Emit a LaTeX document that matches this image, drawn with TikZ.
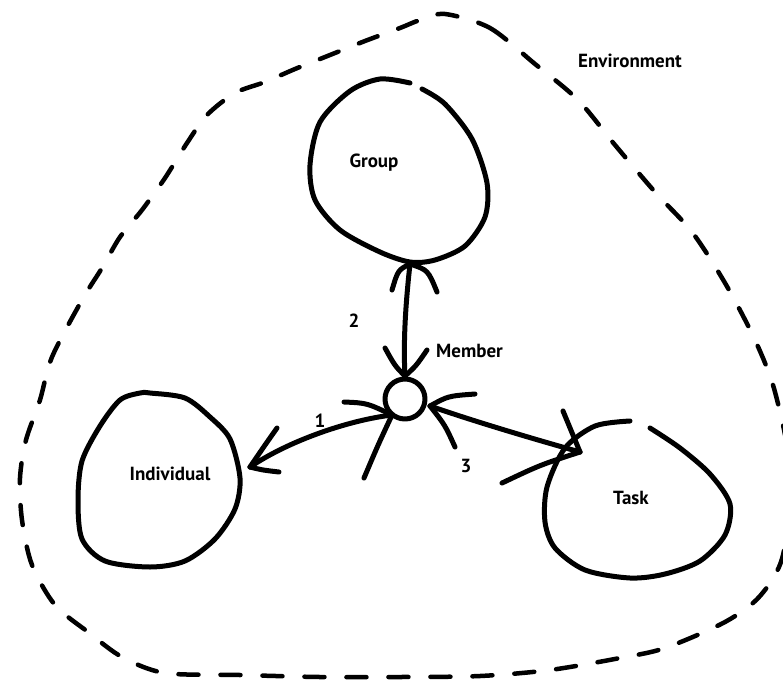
\documentclass[tikz,border=0pt]{standalone}
\usepackage{fontspec}
\setmainfont{PT Sans}
\begin{document}
\begin{tikzpicture}[x=1pt,y=-1pt, line cap=round, line join=round,
  blob/.style={line width=5pt},
  env/.style={line width=4.5pt, dash pattern=on 20pt off 22pt},
  conn/.style={line width=5pt},
  prong/.style={line width=5pt},
  lbl/.style={font=\fontsize{19}{22}\selectfont\bfseries, inner sep=0pt},
  num/.style={font=\fontsize{19}{22}\selectfont\bfseries, inner sep=0pt}]
\useasboundingbox (0,0) rectangle (783,682);

% environment
\draw[env] plot[smooth cycle] coordinates {(445,14) (490,28) (535,64) (578,100) (615,145) (655,192) (692,232) (725,283) (755,340) (775,392) (790,470) (783,555) (760,596) (725,622) (665,648) (620,658) (550,670) (480,676) (400,677) (320,677) (240,675) (165,673) (122,657) (88,632) (55,605) (32,565) (22,520) (20,478) (26,440) (40,400) (52,357) (82,300) (102,268) (120,237) (142,210) (165,178) (187,143) (207,115) (235,93) (265,82) (295,69) (330,55) (365,41) (400,28) (420,20)};
\node[lbl] (envl) at (630,61) {Environment};

% Group blob
\draw[blob] plot[smooth] coordinates {(422,89) (445,104) (472,139) (487,183) (485,217) (465,246) (435,260) (410,262) (380,252) (340,230) (315,200) (310,165) (320,122) (350,91) (380,79) (410,83)};
\node[lbl] (group) at (374,163) {Group};

% Individual blob
\draw[blob] plot[smooth cycle] coordinates {(150,393) (185,398) (210,417) (230,439) (240,478) (235,509) (215,539) (185,561) (150,567) (105,561) (82,539) (78,500) (82,461) (100,426) (120,400) (140,393)};
\node[lbl] (indiv) at (170,474) {Individual};

% Task blob
\draw[blob] plot[smooth] coordinates {(650,428) (680,448) (710,474) (730,504) (725,535) (700,561) (665,574) (630,578) (585,570) (555,548) (545,522) (547,487) (565,448) (595,426) (630,421)};
\node[lbl] (task) at (631,498) {Task};

% Member
\node[draw, circle, line width=5pt, minimum size=40pt, inner sep=0pt] (m) at (405,399) {};
\node[lbl, anchor=west] (memberl) at (436,351) {Member};

% connector points
\coordinate (gB) at (410,264);
\coordinate (mT) at (405,376);
\coordinate (iR) at (250,467);
\coordinate (mL) at (392,415);
\coordinate (mR) at (430,406);
\coordinate (tL) at (580,452);

% 2: Group -- Member
\draw[conn] (gB) .. controls (406,300) and (403,340) .. (mT);
\draw[prong] (gB) .. controls (398,270) .. (392,290);
\draw[prong] (gB) .. controls (428,270) .. (437,292);
\draw[prong] (mT) .. controls (395,366) .. (385,348);
\draw[prong] (mT) .. controls (416,366) .. (427,350);
\node[num] (n2) at (354,321) {2};

% 1: Member -- Individual
\draw[conn] (mL) .. controls (350,420) and (290,440) .. (iR);
\draw[prong] (iR) .. controls (265,445) .. (277,428);
\draw[prong] (iR) .. controls (262,470) .. (279,472);
\draw[prong] (mL) .. controls (367,403) .. (344,402);
\draw[prong] (mL) .. controls (378,445) .. (364,478);
\node[num] (n1) at (320,421) {1};

% 3: Member -- Task
\draw[conn] (mR) .. controls (470,420) and (530,438) .. (tL);
\draw[prong] (mR) .. controls (448,396) .. (475,394);
\draw[prong] (mR) .. controls (445,425) .. (455,447);
\draw[prong] (tL) -- (563,411);
\draw[prong] (tL) .. controls (540,465) .. (502,483);
\node[num] (n3) at (466,466) {3};
\end{tikzpicture}
\end{document}
